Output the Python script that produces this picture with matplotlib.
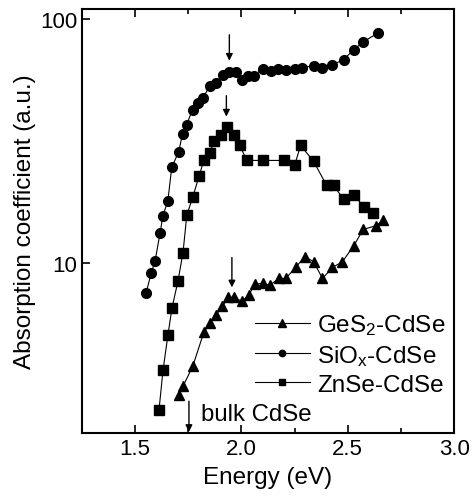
import numpy as np
import matplotlib
matplotlib.use("Agg")
import matplotlib.pyplot as plt
from matplotlib.ticker import FixedLocator

plt.rcParams["font.family"] = ["Liberation Sans", "DejaVu Sans"]
plt.rcParams["mathtext.fontset"] = "custom"
plt.rcParams["mathtext.rm"] = "Liberation Sans"
plt.rcParams["mathtext.it"] = "Liberation Sans:italic"

# SiOx-CdSe (circles)
sio_e = [1.551, 1.575, 1.594, 1.617, 1.630, 1.654, 1.672, 1.705, 1.723, 1.742,
         1.770, 1.795, 1.819, 1.852, 1.879, 1.911, 1.940, 1.973, 2.001, 2.029,
         2.058, 2.100, 2.137, 2.170, 2.208, 2.250, 2.287, 2.339, 2.381, 2.428,
         2.480, 2.527, 2.573, 2.644]
sio_a = [7.48, 9.04, 10.2, 13.2, 15.5, 18.0, 24.6, 28.6, 33.9, 36.9,
         42.5, 45.4, 47.6, 53.3, 54.8, 59.1, 60.8, 60.8, 56.4, 58.6,
         58.6, 62.6, 61.4, 62.6, 62.0, 62.6, 63.2, 64.4, 63.2, 65.0,
         68.1, 74.8, 80.7, 87.9]

# ZnSe-CdSe (squares)
znse_e = [1.612, 1.631, 1.654, 1.673, 1.701, 1.725, 1.743, 1.771, 1.800, 1.823,
          1.851, 1.870, 1.903, 1.931, 1.964, 1.992, 2.025, 2.100, 2.198, 2.250,
          2.278, 2.339, 2.400, 2.433, 2.480, 2.527, 2.578, 2.620]
znse_a = [2.48, 3.62, 5.04, 6.50, 8.38, 11.0, 15.7, 18.6, 22.6, 26.3,
          28.1, 31.5, 33.3, 35.9, 33.3, 30.3, 26.3, 26.3, 26.3, 25.1,
          30.3, 26.1, 20.8, 20.8, 18.2, 18.9, 17.0, 16.0]

# GeS2-CdSe (triangles)
ges_e = [1.706, 1.725, 1.771, 1.823, 1.851, 1.879, 1.910, 1.939, 1.967, 2.001,
         2.034, 2.062, 2.100, 2.133, 2.175, 2.208, 2.255, 2.297, 2.339, 2.381,
         2.428, 2.475, 2.527, 2.573, 2.634, 2.667]
ges_a = [2.86, 3.11, 3.76, 5.18, 5.64, 6.08, 6.62, 7.21, 7.21, 6.94,
         7.35, 8.15, 8.23, 8.07, 8.62, 8.62, 9.56, 10.6, 10.1, 8.62,
         9.56, 10.1, 11.7, 13.7, 14.2, 15.0]

# arrows: (x, y_start, y_end)
arrows = [(1.943, 86.2, 67.5), (1.929, 48.5, 39.8), (1.955, 10.5, 7.92), (1.753, 2.70, 2.02)]

fig = plt.figure(figsize=(4.74, 5.02), dpi=100)
ax = fig.add_axes([0.173, 0.1355, 0.785, 0.8445])

lw = 0.8
ax.plot(ges_e, ges_a, "-^", color="black", lw=lw, ms=7.8, label=r"GeS$_2$-CdSe")
ax.plot(sio_e, sio_a, "-o", color="black", lw=lw, ms=7.0, label=r"SiO$_\mathrm{x}$-CdSe")
ax.plot(znse_e, znse_a, "-s", color="black", lw=lw, ms=6.6, label="ZnSe-CdSe")

for x, y0, y1 in arrows:
    ax.annotate("", xy=(x, y1), xytext=(x, y0),
                arrowprops=dict(arrowstyle="-|>", color="black", lw=1.0,
                                mutation_scale=10, shrinkA=0, shrinkB=0))
ax.text(1.809, 2.39, "bulk CdSe", fontsize=17.3, va="center", ha="left")

ax.set_yscale("log")
ax.set_xlim(1.25, 3.0)
ax.set_ylim(2.0, 110)

ax.set_xticks([1.5, 2.0, 2.5, 3.0])
ax.set_xticklabels(["1.5", "2.0", "2.5", "3.0"])
ax.xaxis.set_minor_locator(FixedLocator([1.75, 2.25, 2.75]))
ax.yaxis.set_major_locator(FixedLocator([10, 100]))
ax.yaxis.set_major_formatter(plt.FuncFormatter(lambda v, p: f"{v:g}"))
ax.yaxis.set_minor_locator(FixedLocator([]))
ax.tick_params(which="both", direction="in", top=True, right=True, labelsize=16, width=1.2)
ax.tick_params(which="major", length=6)
ax.tick_params(which="minor", length=3.5)
ax.tick_params(axis="y", which="major", right=False)

for s in ax.spines.values():
    s.set_linewidth(1.5)

ax.set_xlabel("Energy (eV)", fontsize=17.5, labelpad=5)
ax.set_ylabel("Absorption coefficient (a.u.)", fontsize=17.5, labelpad=3)

ax.legend(loc="upper left", bbox_to_anchor=(0.465, 0.285), frameon=False, fontsize=17.5,
          handlelength=2.25, handletextpad=0.3, labelspacing=0.24, markerscale=0.65,
          borderpad=0, borderaxespad=0)

fig.savefig("out.png", dpi=100)
